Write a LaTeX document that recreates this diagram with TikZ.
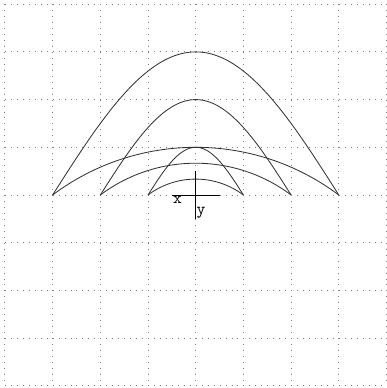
\documentclass[tikz,border=0pt]{standalone}
\begin{document}
\begin{tikzpicture}[x=1cm,y=-1cm,
  gridline/.style={gray, line width=0.55pt, dash pattern=on 0.55pt off 3.007pt},
  curve/.style={black!80, line width=0.5pt},
  axisline/.style={black, line width=0.5pt},
  axislabel/.style={font=\ttfamily\fontsize{10}{11}\selectfont, inner sep=0pt}]
\useasboundingbox (-4.103,-4.088) rectangle (3.990,4.046);
% grid
\foreach \i in {-4,...,4} {
  \draw[gridline] (\i,-4) -- (\i,4);
  \draw[gridline] (-4,\i) -- (4,\i);
}
% tall arches
\draw[curve] plot[domain=-3:3, samples=121] (\x,{-3*cos(30*\x)});
\draw[curve] plot[domain=-2:2, samples=101] (\x,{-2*cos(45*\x)});
\draw[curve] plot[domain=-1:1, samples=81] (\x,{-1*cos(90*\x)});
% flat arcs
\draw[curve] (-3,0) arc[start angle=233.13, end angle=306.87, radius=5];
\draw[curve] (-2,0) arc[start angle=233.13, end angle=306.87, radius=3.3333];
\draw[curve] (-1,0) arc[start angle=233.13, end angle=306.87, radius=1.6667];
% axis cross
\draw[axisline] (-0.5,0) -- (0.5,0);
\draw[axisline] (0,-0.5) -- (0,0.5);
\node[axislabel] (xl) at (-0.382,0.105) {x};
\node[axislabel] (yl) at (0.111,0.377) {y};
\end{tikzpicture}
\end{document}
